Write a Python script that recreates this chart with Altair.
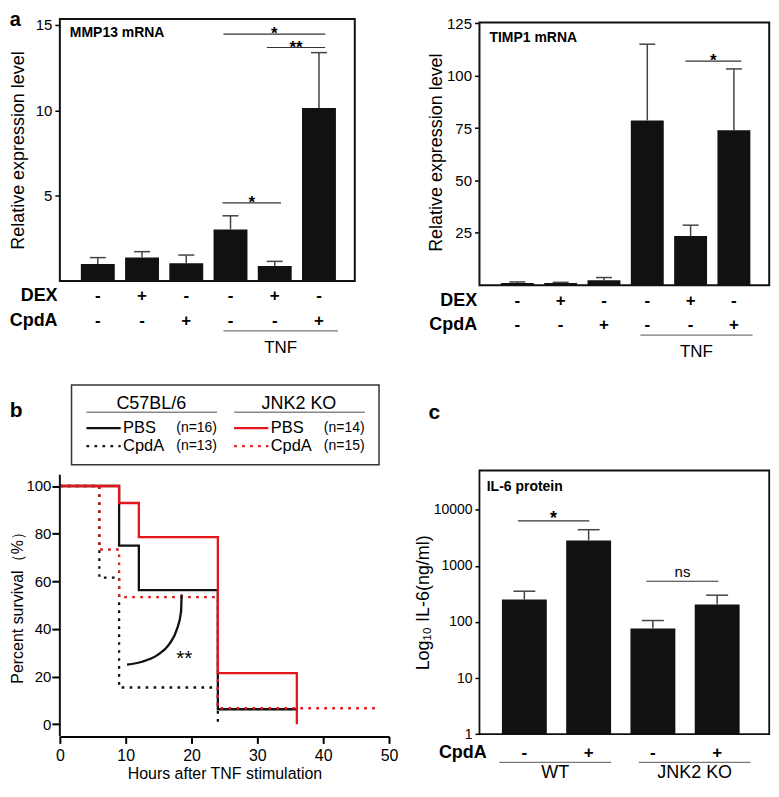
import altair as alt
import pandas as pd

FONT = "Liberation Sans"
BLACK = "#111111"
RED = "#e3161d"

# ---------------- Panel a data ----------------
a_pos = [0, 1, 2, 3, 4, 5]
a_dex = ["-", "+", "-", "-", "+", "-"]
a_cpda = ["-", "-", "+", "-", "-", "+"]
mmp13_mean = [1.00, 1.37, 1.04, 3.02, 0.88, 10.13]
mmp13_upper = [1.37, 1.72, 1.52, 3.82, 1.15, 13.38]
mmp13_sig_from = [2.84, 3.82, 2.82]
mmp13_sig_to = [5.14, 5.14, 4.14]
mmp13_sig_y = [14.46, 13.68, 4.58]
mmp13_sig_label = ["*", "**", "*"]
timp1_mean = [1.1, 1.1, 2.4, 78.7, 23.5, 74.0]
timp1_upper = [1.6, 1.4, 3.7, 115.1, 28.7, 103.3]
timp1_sig_from = [3.88]
timp1_sig_to = [5.17]
timp1_sig_y = [107.0]
timp1_sig_label = ["*"]
tnf_label = ["TNF"]
tnf_from = [2.84]
tnf_to = [5.43]

# ---------------- Panel b data ----------------
c57_pbs_t = [0, 9, 12, 24, 36]
c57_pbs_s = [100, 75.0, 56.25, 6.25, 6.25]
c57_cpda_t = [0, 6, 9, 24]
c57_cpda_s = [100, 61.54, 15.38, 0]
jnk_pbs_t = [0, 9, 12, 24, 36]
jnk_pbs_s = [100, 92.86, 78.57, 21.43, 0]
jnk_cpda_t = [0, 6, 9, 24, 48]
jnk_cpda_s = [100, 73.33, 53.33, 6.67, 6.67]
arc_t = [10.2, 12.5, 14.8, 16.6, 17.8, 18.4, 18.5]
arc_s = [25.0, 26.2, 29.0, 33.5, 40.0, 47.0, 54.5]
b_sig_t = [18.9]
b_sig_s = [29.7]
b_sig_label = ["**"]
strains = ["C57BL/6", "JNK2 KO"]
treatments = ["PBS", "CpdA"]
n_labels = [["(n=16)", "(n=13)"], ["(n=14)", "(n=15)"]]

# ---------------- Panel c data ----------------
c_pos = [0, 1, 2, 3]
c_cpda = ["-", "+", "-", "+"]
il6_mean = [251, 2845, 76.6, 205]
il6_upper = [353, 4410, 106, 300]
il6_sig_from = [-0.10, 1.90]
il6_sig_to = [1.01, 3.02]
il6_sig_y = [6330, 532]
il6_sig_label = ["*", "ns"]
c_groups = ["WT", "JNK2 KO"]
c_group_from = [-0.39, 1.78]
c_group_to = [1.35, 3.52]


def txt(s):
    return pd.DataFrame({"t": [s]})


def text_at(s, x, y, **kw):
    return alt.Chart(txt(s)).mark_text(**kw).encode(
        x=alt.value(x), y=alt.value(y), text="t:N")


def panel_a(letter, inner_title, mean, upper, sf, st, sy, sl, ydomain, yticks,
            W, H, xdom, bar_w, title_pad, inner_y, box_top=None):
    xs = alt.Scale(domain=xdom, nice=False, zero=False)
    ys = alt.Scale(domain=ydomain, nice=False)
    df = pd.DataFrame({"pos": a_pos, "mean": mean, "upper": upper,
                       "dex": a_dex, "cpda": a_cpda})
    sig = pd.DataFrame({"x1": sf, "x2": st, "y": sy, "lab": sl})
    tnf = pd.DataFrame({"x1": tnf_from, "x2": tnf_to, "lab": tnf_label})
    yaxis = alt.Axis(values=yticks, domain=False, grid=False, tickSize=5,
                     tickWidth=1.5, labelFontSize=15, labelPadding=3,
                     title="Relative expression level", titleFontSize=18,
                     titlePadding=title_pad)
    X = alt.X("pos:Q", scale=xs, axis=None)
    Xo = lambda f: alt.X(f, type="quantitative", scale=xs, axis=None)
    Yo = lambda f: alt.Y(f, type="quantitative", scale=ys)
    layers = [
        alt.Chart(df).mark_bar(color=BLACK, width=bar_w).encode(
            x=X, y=alt.Y("mean:Q", scale=ys, axis=yaxis)),
        alt.Chart(df).mark_rule(color="#444", strokeWidth=1.5).encode(
            x=X, y=Yo("mean"), y2=alt.Y2("upper")),
        alt.Chart(df).mark_rule(color="#444", strokeWidth=1.5, xOffset=-8,
                                x2Offset=8).encode(
            x=X, x2=alt.X2("pos"), y=Yo("upper")),
        alt.Chart(sig).mark_rule(color="#333", strokeWidth=1.2).encode(
            x=Xo("x1"), x2=alt.X2("x2"), y=Yo("y")),
        alt.Chart(sig).transform_calculate(mid="(datum.x1 + datum.x2) / 2")
        .mark_text(fontSize=17, fontWeight="bold", baseline="alphabetic", dy=5.3)
        .encode(x=Xo("mid"), y=Yo("y"), text="lab:N"),
        alt.Chart(df).mark_text(fontSize=17, fontWeight="bold").encode(
            x=X, y=alt.value(H + 15.5), text="dex:N"),
        alt.Chart(df).mark_text(fontSize=17, fontWeight="bold").encode(
            x=X, y=alt.value(H + 40), text="cpda:N"),
        text_at("DEX", -2.3, H + 15.5, align="right", fontSize=18, fontWeight="bold"),
        text_at("CpdA", -2.3, H + 40, align="right", fontSize=18, fontWeight="bold"),
        alt.Chart(tnf).mark_rule(color="#777", strokeWidth=1.3).encode(
            x=Xo("x1"), x2=alt.X2("x2"), y=alt.value(H + 50)),
        alt.Chart(tnf).transform_calculate(mid="(datum.x1 + datum.x2) / 2")
        .mark_text(fontSize=17).encode(
            x=Xo("mid"), y=alt.value(H + 67), text="lab:N"),
        text_at(inner_title, 10, inner_y, align="left", fontSize=14,
                fontWeight="bold"),
    ]
    if letter:
        layers.append(text_at(letter, -50.3, -8.5, align="left", baseline="top",
                              fontSize=20, fontWeight="bold"))
    if box_top is not None:
        box = pd.DataFrame({"lo": [ydomain[0]], "hi": [box_top]})
        layers.append(alt.Chart(box).mark_rect(fillOpacity=0, stroke=BLACK,
                                                strokeWidth=2).encode(
            x=alt.value(0), x2=alt.value(W), y=Yo("lo"), y2=alt.Y2("hi")))
        view = alt.ViewBackground(stroke=None)
    else:
        view = alt.ViewBackground(stroke=BLACK, strokeWidth=2)
    return alt.layer(*layers).properties(width=W, height=H, view=view)


a1 = panel_a("a", "MMP13 mRNA", mmp13_mean, mmp13_upper, mmp13_sig_from,
             mmp13_sig_to, mmp13_sig_y, mmp13_sig_label, [0, 15.35],
             [5, 10, 15], 295.7, 262.7, [-0.745, 5.697], 34, 7.5, 14.3)
a2 = panel_a(None, "TIMP1 mRNA", timp1_mean, timp1_upper, timp1_sig_from,
             timp1_sig_to, timp1_sig_y, timp1_sig_label, [0, 127.14],
             [25, 50, 75, 100, 125], 290.5, 267.0, [-0.76, 5.70], 33, 1, 18.7,
             box_top=125.5)

# ---------------- Panel b ----------------
BW, BH = 330, 266.6
bxs = alt.Scale(domain=[0, 50], nice=False, zero=False)
bys = alt.Scale(domain=[-5.15, 106.5], nice=False, zero=False)
bx_axis = alt.Axis(values=[0, 10, 20, 30, 40, 50], tickSize=7, tickWidth=2,
                   domainWidth=2, labelFontSize=16, labelPadding=4,
                   labelFlush=False, grid=False,
                   title="Hours after TNF stimulation", titleFontSize=16,
                   titlePadding=2)
by_axis = alt.Axis(values=[0, 20, 40, 60, 80, 100], domain=False, tickSize=8,
                   tickWidth=2, labelFontSize=15, labelPadding=1, grid=False,
                   title="Percent survival（%）", titleFontSize=16,
                   titlePadding=0)
bX = lambda f: alt.X(f, type="quantitative", scale=bxs)
bY = lambda f: alt.Y(f, type="quantitative", scale=bys)
SOLID = [1, 0]
DOT = [2.7, 5.3]
series = [
    (c57_pbs_t, c57_pbs_s, BLACK, SOLID),
    (c57_cpda_t, c57_cpda_s, BLACK, DOT),
    (jnk_pbs_t, jnk_pbs_s, RED, SOLID),
    (jnk_cpda_t, jnk_cpda_s, RED, DOT),
]
b_layers = []
for i, (t, s, col, dash) in enumerate(series):
    d = pd.DataFrame({"t": t, "s": s})
    if i == 0:
        enc = dict(x=alt.X("t:Q", scale=bxs, axis=bx_axis),
                   y=alt.Y("s:Q", scale=bys, axis=by_axis))
    else:
        enc = dict(x=bX("t"), y=bY("s"))
    b_layers.append(alt.Chart(d).mark_line(
        interpolate="step-after", color=col, strokeDash=dash, strokeWidth=2.3
    ).encode(**enc))
b_layers.append(alt.Chart(pd.DataFrame({"lo": [-5.15], "hi": [104.7]})).mark_rule(
    color=BLACK, strokeWidth=2).encode(
    x=alt.value(0), y=bY("lo"), y2=alt.Y2("hi")))
b_layers.append(alt.Chart(pd.DataFrame({"t": arc_t, "s": arc_s})).mark_line(
    interpolate="monotone", color=BLACK, strokeWidth=2.3).encode(
    x=bX("t"), y=bY("s")))
b_layers.append(alt.Chart(pd.DataFrame({"t": b_sig_t, "s": b_sig_s, "lab": b_sig_label}))
                .mark_text(fontSize=21, baseline="alphabetic", dy=12).encode(
    x=bX("t"), y=bY("s"), text="lab:N"))
# legend box
b_layers.append(alt.Chart(txt("")).mark_rect(fill="white", stroke="#333",
                                              strokeWidth=1.5).encode(
    x=alt.value(11.7), x2=alt.value(320), y=alt.value(-85.7), y2=alt.value(-5.7)))
for g, strain in enumerate(strains):
    gx = 148 * g
    col = [BLACK, RED][g]
    b_layers.append(text_at(strain, 91.7 + gx, -66.7, fontSize=18))
    b_layers.append(alt.Chart(txt("")).mark_rule(color="#888", strokeWidth=1.5).encode(
        x=alt.value(26.7 + gx), x2=alt.value(157.7 + gx), y=alt.value(-58.4)))
    for r, trt in enumerate(treatments):
        ry = -42.4 + 18 * r
        b_layers.append(alt.Chart(txt("")).mark_rule(
            color=col, strokeWidth=2.3, strokeDash=[SOLID, DOT][r]).encode(
            x=alt.value(26.7 + gx), x2=alt.value(61 + gx), y=alt.value(ry)))
        b_layers.append(text_at(trt, 63.4 + gx, ry, align="left", fontSize=16.5))
        b_layers.append(text_at(n_labels[g][r], 116.7 + gx, ry, align="left",
                                fontSize=14))
b_layers.append(text_at("b", -50.3, -53.7, align="left", baseline="alphabetic",
                        fontSize=21, fontWeight="bold"))
b = alt.layer(*b_layers).properties(width=BW, height=BH,
                                     view=alt.ViewBackground(stroke=None))

# ---------------- Panel c ----------------
CW, CH = 290.5, 264.3
cxs = alt.Scale(domain=[-0.621, 3.732], nice=False, zero=False)
cys = alt.Scale(type="log", domain=[1, 50119], nice=False)
cdf = pd.DataFrame({"pos": c_pos, "mean": il6_mean, "upper": il6_upper,
                    "cpda": c_cpda})
csig = pd.DataFrame({"x1": il6_sig_from, "x2": il6_sig_to, "y": il6_sig_y,
                     "lab": il6_sig_label})
cgrp = pd.DataFrame({"x1": c_group_from, "x2": c_group_to, "lab": c_groups})
cX = alt.X("pos:Q", scale=cxs, axis=None)
cXo = lambda f: alt.X(f, type="quantitative", scale=cxs, axis=None)
cYo = lambda f: alt.Y(f, type="quantitative", scale=cys)
cy_axis = alt.Axis(values=[1, 10, 100, 1000, 10000], format="d", domain=False,
                   grid=False, tickSize=4.5, tickWidth=1.5, labelFontSize=14,
                   labelPadding=3, title="Log₁₀ IL-6(ng/ml)", titleFontSize=18,
                   titlePadding=1)
c_layers = [
    alt.Chart(cdf).mark_bar(color=BLACK, width=45).encode(
        x=cX, y=alt.Y("mean:Q", scale=cys, axis=cy_axis), y2=alt.datum(1)),
    alt.Chart(cdf).mark_rule(color="#444", strokeWidth=1.5).encode(
        x=cX, y=cYo("mean"), y2=alt.Y2("upper")),
    alt.Chart(cdf).mark_rule(color="#444", strokeWidth=1.5, xOffset=-11,
                             x2Offset=11).encode(
        x=cX, x2=alt.X2("pos"), y=cYo("upper")),
    alt.Chart(csig).mark_rule(color="#333", strokeWidth=1.2).encode(
        x=cXo("x1"), x2=alt.X2("x2"), y=cYo("y")),
    alt.Chart(csig).transform_filter("datum.lab != 'ns'")
    .transform_calculate(mid="(datum.x1 + datum.x2) / 2")
    .mark_text(fontSize=18, fontWeight="bold", baseline="alphabetic", dy=3)
    .encode(x=cXo("mid"), y=cYo("y"), text="lab:N"),
    alt.Chart(csig).transform_filter("datum.lab == 'ns'")
    .transform_calculate(mid="(datum.x1 + datum.x2) / 2")
    .mark_text(fontSize=15, baseline="alphabetic", dy=-3.8)
    .encode(x=cXo("mid"), y=cYo("y"), text="lab:N"),
    alt.Chart(cdf).mark_text(fontSize=17, fontWeight="bold").encode(
        x=cX, y=alt.value(CH + 19), text="cpda:N"),
    text_at("CpdA", 7.3, CH + 19, align="right", fontSize=18, fontWeight="bold"),
    alt.Chart(cgrp).mark_rule(color="#777", strokeWidth=1.3).encode(
        x=cXo("x1"), x2=alt.X2("x2"), y=alt.value(CH + 28.3)),
    alt.Chart(cgrp).transform_calculate(mid="(datum.x1 + datum.x2) / 2")
    .mark_text(fontSize=18).encode(
        x=cXo("mid"), y=alt.value(CH + 38.5), text="lab:N"),
    text_at("IL-6 protein", 7.3, 16.3, align="left", fontSize=14,
            fontWeight="bold"),
    text_at("c", -51, -51.7, align="left", baseline="alphabetic", fontSize=21,
            fontWeight="bold"),
]
c = alt.layer(*c_layers).properties(
    width=CW, height=CH, view=alt.ViewBackground(stroke=BLACK, strokeWidth=1.8))

chart = alt.concat(
    a1, a2, b, c, columns=2,
    spacing=alt.RowColnumber(row=185.7, column=90.7),
    bounds="flush", align="each",
).properties(
    padding={"left": 0, "top": 0, "right": 0, "bottom": 0}
).configure(font=FONT).configure_view(stroke=None).configure_axis(
    labelFont=FONT, titleFont=FONT, labelColor="black", titleColor="black",
    tickColor="black", domainColor="black", titleFontWeight="normal"
).configure_text(font=FONT, color="black")

chart.save("out.html", embed_options={"renderer": "svg", "actions": False})
